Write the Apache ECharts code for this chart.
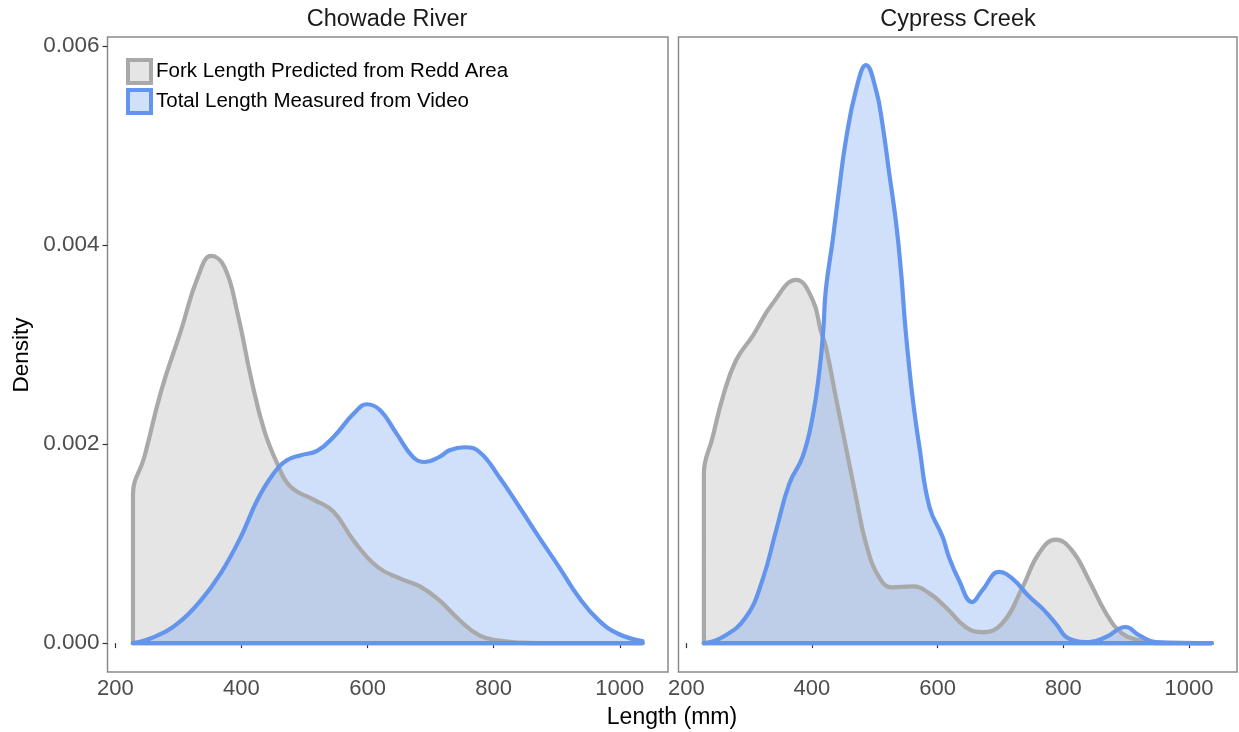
<!DOCTYPE html>
<html>
<head>
<meta charset="utf-8">
<script src="https://cdn.jsdelivr.net/npm/echarts@6/dist/echarts.min.js"></script>
<style>
html,body{margin:0;padding:0;background:#fff;}
#chart{width:1239px;height:732px;}
</style>
</head>
<body>
<div id="chart"></div>
<script>
// ---------- data ----------
const panelNames = ['Chowade River', 'Cypress Creek'];
const seriesNames = ['Fork Length Predicted from Redd Area', 'Total Length Measured from Video'];
const xTicks = [200, 400, 600, 800, 1000];
const yTicks = [0, 0.002, 0.004, 0.006];
const dataRange = [228, 1036];

// Chowade River - Fork Length (grey)
const chowadeForkX = [228, 228, 246, 273, 304, 331, 352, 373, 394, 415, 436, 457, 478, 515, 546, 578, 615, 651, 683, 714, 746, 778, 809, 841, 870, 1036];
const chowadeForkY = [0, 0.00149, 0.00187, 0.00254, 0.00314, 0.00368, 0.00389, 0.00378, 0.00331, 0.00267, 0.00214, 0.00180, 0.00157, 0.00144, 0.00132, 0.00103, 0.00077, 0.00065, 0.00057, 0.00043, 0.00023, 0.000075, 0.000025, 0.000005, 0, 0];

// Chowade River - Total Length (blue)
const chowadeTotalX = [228, 262, 299, 336, 367, 399, 425, 451, 472, 494, 520, 546, 578, 599, 620, 646, 672, 691, 714, 730, 754, 778, 809, 841, 872, 904, 935, 967, 998, 1036];
const chowadeTotalY = [0, 0.000063, 0.000198, 0.000432, 0.0007, 0.001067, 0.001436, 0.001704, 0.001837, 0.001888, 0.001931, 0.002071, 0.002306, 0.0024, 0.002339, 0.002105, 0.001871, 0.00182, 0.001871, 0.001938, 0.001968, 0.001918, 0.001666, 0.001365, 0.001063, 0.000762, 0.00046, 0.000226, 0.000092, 0.00002];

// Cypress Creek - Fork Length (grey)
const cypressForkX = [228, 228, 242, 258, 279, 306, 337, 375, 401, 414, 422, 438, 454, 470, 486, 507, 528, 560, 587, 613, 645, 671, 703, 735, 761, 788, 814, 841, 868, 894, 921, 947, 1036];
const cypressForkY = [0, 0.0017, 0.00207, 0.00247, 0.00284, 0.00309, 0.00341, 0.00365, 0.00345, 0.00314, 0.00298, 0.00247, 0.00197, 0.00147, 0.001, 0.00066, 0.00056, 0.00057, 0.0005, 0.00036, 0.00016, 0.00011, 0.0002, 0.00056, 0.0009, 0.00104, 0.00093, 0.00063, 0.0003, 0.000095, 0.000028, 0, 0];

// Cypress Creek - Total Length (blue)
const cypressTotalX = [228, 258, 295, 321, 343, 364, 385, 401, 412, 418, 422, 433, 443, 454, 470, 486, 502, 512, 523, 534, 542, 549, 560, 571, 587, 608, 618, 634, 655, 671, 698, 719, 746, 767, 788, 809, 841, 868, 899, 921, 947, 1036];
const cypressTotalY = [0, 0.000061, 0.000262, 0.000631, 0.001134, 0.001603, 0.00187, 0.002272, 0.002744, 0.003144, 0.003546, 0.004048, 0.004551, 0.005053, 0.005556, 0.005807, 0.005556, 0.005221, 0.004719, 0.004216, 0.003714, 0.003144, 0.002473, 0.001971, 0.001368, 0.001066, 0.000865, 0.000631, 0.000413, 0.000531, 0.000715, 0.000648, 0.000465, 0.000347, 0.000196, 0.000045, 0.000011, 0.000061, 0.000162, 0.000078, 0.000011, 0];

// ---------- styling ----------
const FONT = 'Liberation Sans, Arial, sans-serif';
const greyLine = '#a9a9a9', greyFill = 'rgba(169,169,169,0.3)';
const blueLine = '#6495ed', blueFill = 'rgba(100,149,237,0.3)';
const LW = 4.2;

function zip(xs, ys) { return xs.map((x, i) => [x, ys[i]]); }

function curve(name, xs, ys, idx, line, fill) {
  return {
    name: name, type: 'line', xAxisIndex: idx, yAxisIndex: idx,
    data: zip(xs, ys), showSymbol: false, symbol: 'none', smooth: 0.45,
    lineStyle: { color: line, width: LW, cap: 'round', join: 'round' },
    itemStyle: { color: line },
    areaStyle: { color: fill, opacity: 1 },
    silent: true, animation: false
  };
}
function baseline(name, idx, line) {
  return {
    name: name, type: 'line', xAxisIndex: idx, yAxisIndex: idx,
    data: [[dataRange[0], 0], [dataRange[1], 0]], showSymbol: false, symbol: 'none',
    lineStyle: { color: line, width: LW, cap: 'round' },
    itemStyle: { color: line }, silent: true, animation: false
  };
}

const grids = [
  { left: 107.5, top: 37, width: 560.5, height: 635 },
  { left: 678.5, top: 37, width: 558.5, height: 635 }
].map(g => Object.assign(g, { show: true, borderColor: '#8a8a8a', borderWidth: 1.5, backgroundColor: '#fff', containLabel: false }));

function xAxis(idx) {
  return {
    type: 'value', gridIndex: idx, min: 187.6, max: 1076.4, position: 'bottom',
    splitLine: { show: false }, axisLine: { show: false },
    axisTick: { show: true, length: 5, customValues: xTicks, lineStyle: { color: '#333', width: 1.2 } },
    axisLabel: { show: true, customValues: xTicks, margin: 6, fontSize: 22, fontFamily: FONT, color: '#4d4d4d',
      formatter: v => String(v) }
  };
}
function yAxis(idx) {
  return {
    type: 'value', gridIndex: idx, min: -0.00029, max: 0.00609,
    splitLine: { show: false }, axisLine: { show: false },
    axisTick: { show: idx === 0, length: 5, customValues: yTicks, lineStyle: { color: '#333', width: 1.2 } },
    axisLabel: { show: idx === 0, customValues: yTicks, margin: 8, fontSize: 22.5, fontFamily: FONT, color: '#4d4d4d',
      formatter: v => v.toFixed(3) }
  };
}

const chart = echarts.init(document.getElementById('chart'), null, { renderer: 'canvas' });
chart.setOption({
  animation: false,
  backgroundColor: '#fff',
  grid: grids,
  xAxis: [xAxis(0), xAxis(1)],
  yAxis: [yAxis(0), yAxis(1)],
  legend: {
    orient: 'vertical', left: 121, top: 53, itemWidth: 23, itemHeight: 23, itemGap: 3,
    selectedMode: false,
    textStyle: { fontSize: 20.5, fontFamily: FONT, color: '#000', lineHeight: 23 },
    data: [
      { name: seriesNames[0], icon: 'rect', itemStyle: { color: '#e5e5e5', borderColor: greyLine, borderWidth: 4 } },
      { name: seriesNames[1], icon: 'rect', itemStyle: { color: '#d0e0f9', borderColor: blueLine, borderWidth: 4 } }
    ]
  },
  graphic: [
    { type: 'text', x: 387, y: 20, style: { text: panelNames[0], fontSize: 23.5, fontFamily: FONT, fill: '#1a1a1a', align: 'center', verticalAlign: 'middle' } },
    { type: 'text', x: 958, y: 20, style: { text: panelNames[1], fontSize: 23.5, fontFamily: FONT, fill: '#1a1a1a', align: 'center', verticalAlign: 'middle' } },
    { type: 'text', x: 672, y: 718, style: { text: 'Length (mm)', fontSize: 23, fontFamily: FONT, fill: '#000', align: 'center', verticalAlign: 'middle' } },
    { type: 'text', x: 22, y: 355, rotation: Math.PI / 2, style: { text: 'Density', fontSize: 22.5, fontFamily: FONT, fill: '#000', align: 'center', verticalAlign: 'middle' } }
  ],
  series: [
    curve(seriesNames[0], chowadeForkX, chowadeForkY, 0, greyLine, greyFill),
    baseline(seriesNames[0], 0, greyLine),
    curve(seriesNames[1], chowadeTotalX, chowadeTotalY, 0, blueLine, blueFill),
    baseline(seriesNames[1], 0, blueLine),
    curve(seriesNames[0], cypressForkX, cypressForkY, 1, greyLine, greyFill),
    baseline(seriesNames[0], 1, greyLine),
    curve(seriesNames[1], cypressTotalX, cypressTotalY, 1, blueLine, blueFill),
    baseline(seriesNames[1], 1, blueLine)
  ]
});
</script>
</body>
</html>
